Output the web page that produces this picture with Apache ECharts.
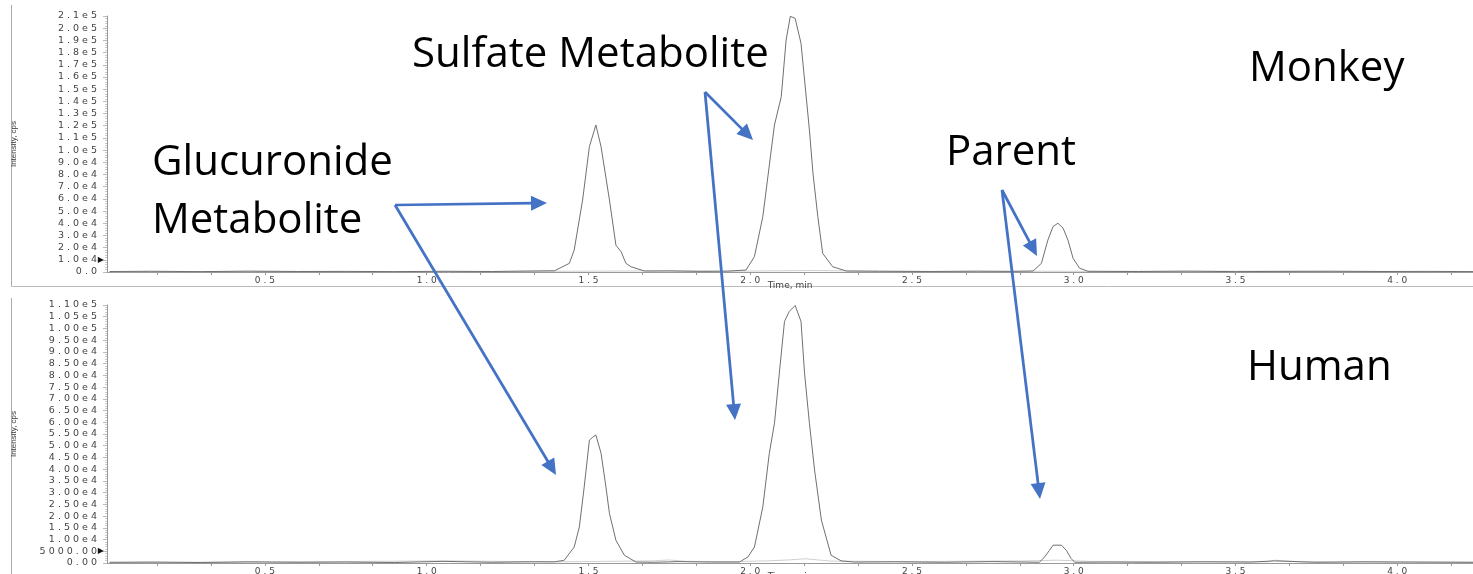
<!DOCTYPE html>
<html>
<head>
<meta charset="utf-8">
<script src="https://cdn.jsdelivr.net/npm/echarts@6/dist/echarts.min.js"></script>
<style>
html,body{margin:0;padding:0;background:#fff;}
#chart{width:1473px;height:574px;}
</style>
</head>
<body>
<div id="chart"></div>
<script>
// ---------- DATA ----------
const monkeyTime = [0.02,0.15,0.3,0.45,0.6,0.75,0.9,1.05,1.2,1.32,
  1.395,1.441,1.456,1.482,1.503,1.523,1.539,1.565,1.585,1.601,1.616,1.632,1.673,
  1.75,1.85,1.93,
  1.987,2.013,2.039,2.065,2.075,2.096,2.111,2.124,2.139,2.157,2.183,2.194,2.209,2.224,2.255,2.297,
  2.4,2.55,2.7,2.8,
  2.874,2.900,2.920,2.936,2.951,2.967,2.982,2.998,3.018,3.044,3.085,
  3.2,3.35,3.5,3.65,3.8,3.95,4.1,4.24];
const monkeyIntensity = [400,600,300,700,400,500,300,600,400,800,
  1000,7100,18000,59000,102800,120600,102800,59000,22000,16600,7100,4300,800,
  900,500,700,
  1600,12600,45400,100000,120600,143800,190300,209800,208000,187600,116500,81000,45400,15300,4300,800,
  600,400,700,500,
  800,7100,26200,37200,40000,36000,26200,11200,3100,600,500,
  400,700,300,500,600,400,500,300];

const humanTime = [0.02,0.15,0.3,0.45,0.6,0.75,0.9,1.05,1.2,1.32,
  1.395,1.425,1.456,1.472,1.487,1.503,1.513,1.523,1.539,1.554,1.565,1.585,1.611,1.647,1.704,
  1.78,1.88,
  1.967,1.993,2.013,2.039,2.059,2.075,2.090,2.106,2.121,2.139,2.157,2.168,2.183,2.199,2.220,2.250,2.281,2.322,
  2.45,2.6,2.75,2.85,
  2.894,2.910,2.925,2.936,2.962,2.977,2.992,3.003,
  3.1,3.25,3.4,3.55,3.62,3.75,3.9,4.05,4.24];
const humanIntensity = [300,400,200,500,300,400,200,700,300,500,
  500,1150,6800,15400,32500,52400,53600,54600,46800,32500,21100,9700,3300,400,300,
  600,400,
  400,2600,6800,23900,46700,59600,80900,103000,107300,109800,103000,80900,59600,39600,18300,3300,900,400,
  500,300,600,400,
  300,2600,5400,7600,7600,5400,1900,300,
  400,300,500,400,900,300,500,400,300];

// faint overlay traces near the baseline
const monkeyOverlayTime = [0.02,0.5,1.0,1.4,1.7,1.95,2.1,2.2,2.35,2.6,2.9,3.1,3.6,4.24];
const monkeyOverlayIntensity = [200,500,300,600,900,700,1000,1200,800,400,600,500,700,300];
const humanOverlayTime = [0.02,0.5,1.05,1.4,1.7,1.75,1.8,1.95,2.05,2.12,2.17,2.25,2.5,2.85,2.95,3.05,3.6,3.62,3.7,4.24];
const humanOverlayIntensity = [200,400,900,500,900,1300,700,600,900,1300,1800,800,600,900,1200,700,500,1200,500,300];

// ---------- TICK LABELS ----------
const xLabelValues = [0.5,1.0,1.5,2.0,2.5,3.0,3.5,4.0];
const xLabels = ['0.5','1.0','1.5','2.0','2.5','3.0','3.5','4.0'];
const monkeyYLabels = ['0.0','1.0e4','2.0e4','3.0e4','4.0e4','5.0e4','6.0e4','7.0e4','8.0e4','9.0e4',
  '1.0e5','1.1e5','1.2e5','1.3e5','1.4e5','1.5e5','1.6e5','1.7e5','1.8e5','1.9e5','2.0e5','2.1e5'];
const humanYLabels = ['0.00','5000.00','1.00e4','1.50e4','2.00e4','2.50e4','3.00e4','3.50e4','4.00e4','4.50e4',
  '5.00e4','5.50e4','6.00e4','6.50e4','7.00e4','7.50e4','8.00e4','8.50e4','9.00e4','9.50e4',
  '1.00e5','1.05e5','1.10e5'];
const axisTitleY = 'Intensity, cps';
const axisTitleX = 'Time, min';
const annotations = ['Sulfate Metabolite','Monkey','Glucuronide','Metabolite','Parent','Human'];

// ---------- BUILD ----------
function zip(t, v){ return t.map((x,i)=>[x, v[i]]); }
function spaced(s){ return s.split('').join(' '); }
const X_MIN = 0.012, X_MAX = 4.234;
const xTickValues = [];
for (let k = 1; k * (1/6) < X_MAX; k++) xTickValues.push(+(k/6).toFixed(4));

const labelColor = '#444';
const axisColor = '#999';

function xAxis(gridIndex){
  return {
    type:'value', gridIndex, min:X_MIN, max:X_MAX,
    axisLine:{show:true, onZero:false, lineStyle:{color:axisColor, width:1}},
    axisTick:{show:true, length:3, lineStyle:{color:axisColor}, customValues:xTickValues},
    axisLabel:{customValues:xLabelValues, margin:4, fontSize:9, fontFamily:'DejaVu Sans', color:labelColor,
      formatter:(v)=>{ const i = xLabelValues.findIndex(u=>Math.abs(u-v)<1e-6); return i>=0 ? spaced(xLabels[i]) : ''; }},
    splitLine:{show:false},
    name:axisTitleX, nameLocation:'middle', nameGap:9, nameMoveOverlap:false,
    nameTextStyle:{fontSize:9, fontFamily:'DejaVu Sans', color:labelColor, verticalAlign:'top'}
  };
}
function yAxis(gridIndex, max, interval, labels, markerIdx){
  return {
    type:'value', gridIndex, min:0, max, interval,
    axisLine:{show:true, lineStyle:{color:axisColor, width:1}},
    axisTick:{show:true, length:4, lineStyle:{color:'#bbb'}},
    minorTick:{show:true, splitNumber:5, length:2, lineStyle:{color:'#ccc'}},
    axisLabel:{margin:3, fontSize:9.5, fontFamily:'DejaVu Sans', color:labelColor,
      formatter:(v)=>{ const i = Math.round(v/interval); const t = labels[i] || '';
        return i===markerIdx ? '{t|'+spaced(t)+'}{m|\u25B6}' : '{t|'+spaced(t)+'}{s|}'; },
      rich:{ t:{fontSize:9.5, fontFamily:'DejaVu Sans', color:labelColor},
             m:{fontSize:8, color:'#111', width:7, align:'right'},
             s:{width:7} }},
    splitLine:{show:false},
    name:axisTitleY, nameLocation:'middle', nameGap:89, nameMoveOverlap:false,
    nameTextStyle:{fontSize:8, fontFamily:'Liberation Sans Narrow, Liberation Sans', color:'#333'}
  };
}

function arrow(x1,y1,x2,y2){
  const dx=x2-x1, dy=y2-y1, L=Math.hypot(dx,dy), ux=dx/L, uy=dy/L;
  const hl=16, hw=7.5;
  const bx=x2-ux*hl, by=y2-uy*hl;
  return [
    {type:'line', z:100, shape:{x1, y1, x2:bx+ux*2, y2:by+uy*2}, style:{stroke:'#4472C4', lineWidth:2.75}},
    {type:'polygon', z:100, shape:{points:[[x2,y2],[bx-uy*hw,by+ux*hw],[bx+uy*hw,by-ux*hw]]}, style:{fill:'#4472C4'}}
  ];
}
function label(text, x, y){
  return {type:'text', z:100, left:x, top:y-18, style:{text, font:'42px "Open Sans"', fill:'#000'}};
}

const graphic = [
  // panel frames
  {type:'line', shape:{x1:11.5,y1:5,x2:11.5,y2:286.5}, style:{stroke:'#aaa', lineWidth:1}},
  {type:'line', shape:{x1:11.5,y1:286.5,x2:1473,y2:286.5}, style:{stroke:'#bbb', lineWidth:1}},
  {type:'line', shape:{x1:11.5,y1:298,x2:11.5,y2:574}, style:{stroke:'#aaa', lineWidth:1}},
  label(annotations[0], 412, 52),
  label(annotations[1], 1249, 66),
  label(annotations[2], 152, 160),
  label(annotations[3], 152, 218),
  label(annotations[4], 946, 150),
  label(annotations[5], 1247, 365),
  ...arrow(395,205,547,203),
  ...arrow(395,205,556,475),
  ...arrow(705,92,753,140),
  ...arrow(705,92,735,420),
  ...arrow(1002,190,1037,256),
  ...arrow(1002,190,1040,499)
];

const chart = echarts.init(document.getElementById('chart'), null, {renderer:'canvas'});
chart.setOption({
  animation:false,
  backgroundColor:'#fff',
  grid:[
    {left:107, right:0, top:16, height:256, containLabel:false, outerBoundsMode:'none'},
    {left:107, right:0, top:305, height:258, containLabel:false, outerBoundsMode:'none'}
  ],
  xAxis:[xAxis(0), xAxis(1)],
  yAxis:[yAxis(0, 210000, 10000, monkeyYLabels, 1), yAxis(1, 110000, 5000, humanYLabels, 1)],
  series:[
    {type:'line', xAxisIndex:0, yAxisIndex:0, data:zip(monkeyOverlayTime, monkeyOverlayIntensity), showSymbol:false, lineStyle:{color:'#d0d0d0', width:1}},
    {type:'line', xAxisIndex:1, yAxisIndex:1, data:zip(humanOverlayTime, humanOverlayIntensity), showSymbol:false, lineStyle:{color:'#d0d0d0', width:1}},
    {type:'line', xAxisIndex:0, yAxisIndex:0, data:zip(monkeyTime, monkeyIntensity), showSymbol:false, lineStyle:{color:'#707070', width:1}},
    {type:'line', xAxisIndex:1, yAxisIndex:1, data:zip(humanTime, humanIntensity), showSymbol:false, lineStyle:{color:'#707070', width:1}}
  ],
  graphic
});
</script>
</body>
</html>
